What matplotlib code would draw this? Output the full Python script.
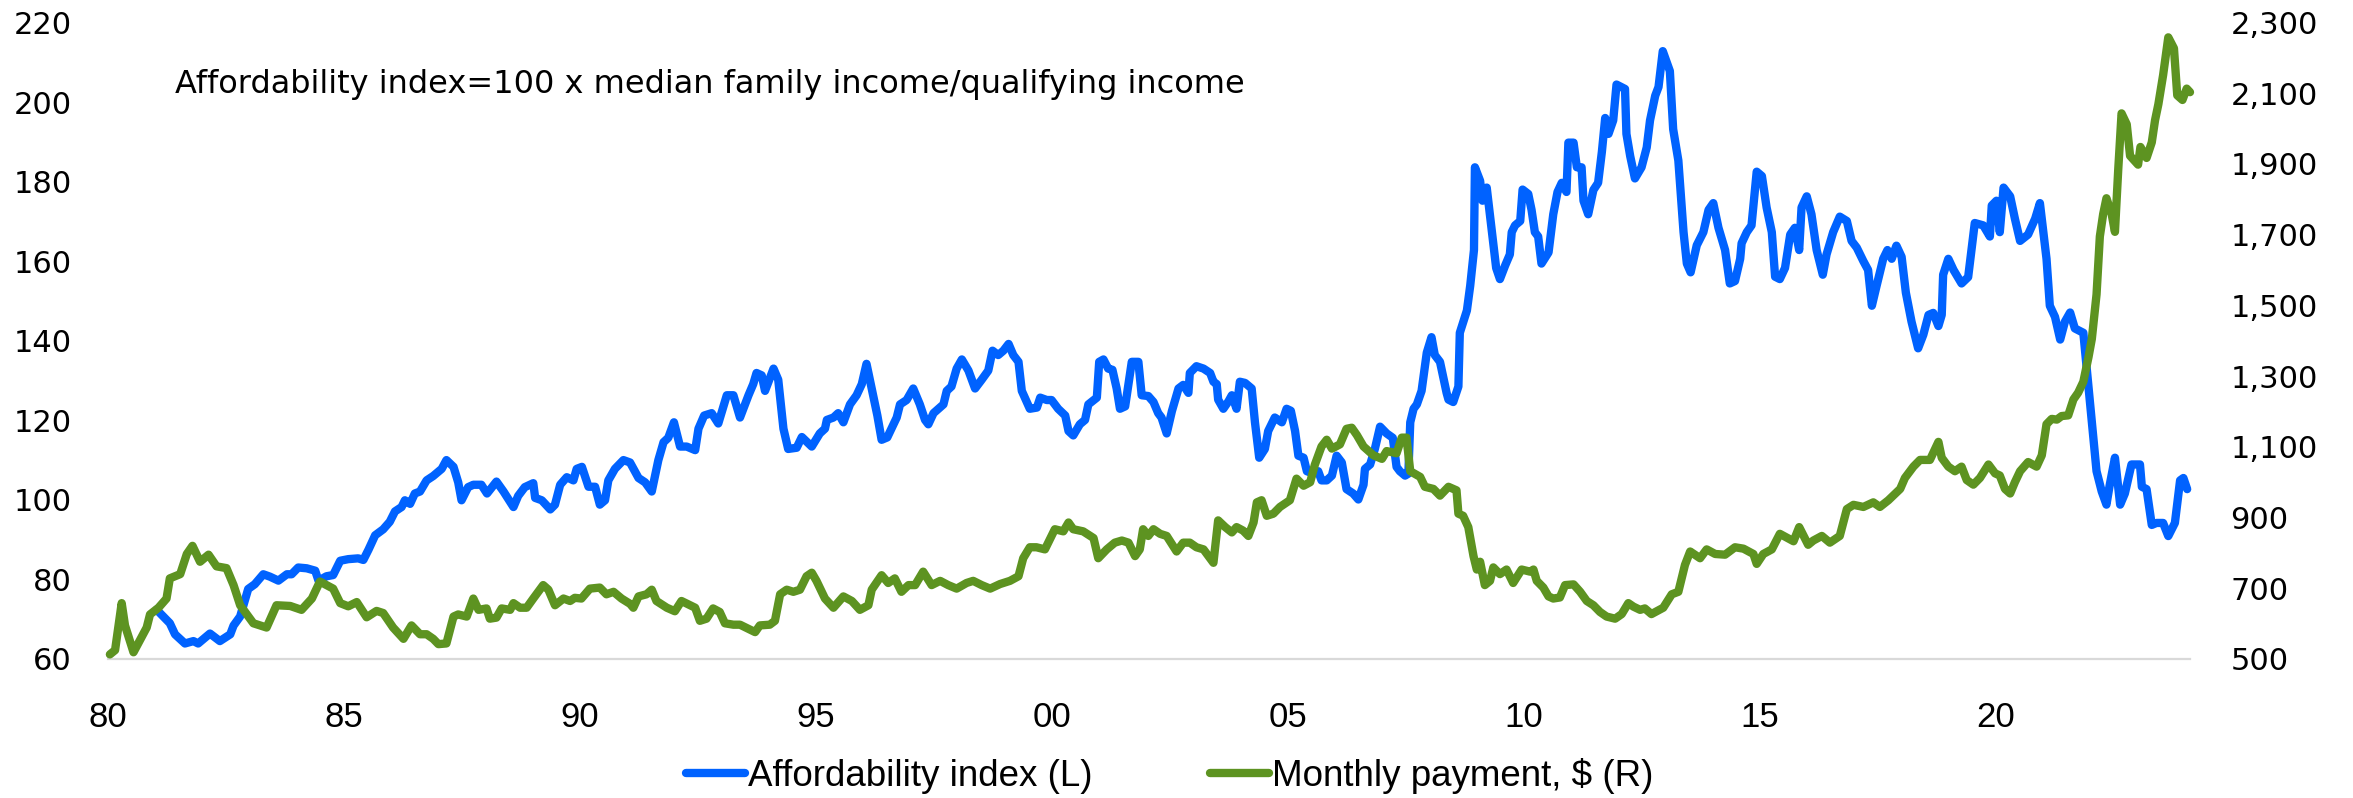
import matplotlib
matplotlib.use("Agg")
import matplotlib.pyplot as plt
from matplotlib.ticker import FuncFormatter

# Affordability index (left axis)
afford_t = [1981.03, 1981.17, 1981.31, 1981.42, 1981.63, 1981.81, 1981.91, 1982.16, 1982.37, 1982.59,
            1982.66, 1982.80, 1982.97, 1983.11, 1983.29, 1983.43, 1983.61, 1983.79, 1983.89, 1984.03,
            1984.21, 1984.39, 1984.46, 1984.63, 1984.77, 1984.92, 1985.09, 1985.30, 1985.41, 1985.52,
            1985.66, 1985.83, 1985.97, 1986.08, 1986.22, 1986.29, 1986.40, 1986.50, 1986.61, 1986.75,
            1986.89, 1987.07, 1987.17, 1987.32, 1987.42, 1987.49, 1987.63, 1987.74, 1987.91, 1988.03,
            1988.23, 1988.38, 1988.59, 1988.69, 1988.83, 1989.01, 1989.05, 1989.19, 1989.37, 1989.47,
            1989.58, 1989.72, 1989.86, 1989.93, 1990.04, 1990.18, 1990.32, 1990.42, 1990.53, 1990.60,
            1990.74, 1990.92, 1991.06, 1991.24, 1991.38, 1991.52, 1991.66, 1991.77, 1991.87, 1991.99,
            1992.12, 1992.26, 1992.44, 1992.51, 1992.63, 1992.79, 1992.93, 1993.11, 1993.25, 1993.39,
            1993.57, 1993.67, 1993.74, 1993.85, 1993.92, 1994.10, 1994.20, 1994.31, 1994.41, 1994.59,
            1994.70, 1994.91, 1995.08, 1995.19, 1995.23, 1995.37, 1995.47, 1995.58, 1995.72, 1995.86,
            1995.97, 1996.07, 1996.18, 1996.30, 1996.39, 1996.51, 1996.71, 1996.78, 1996.92, 1997.06,
            1997.20, 1997.31, 1997.38, 1997.49, 1997.70, 1997.77, 1997.87, 1997.98, 1998.09, 1998.23,
            1998.37, 1998.51, 1998.65, 1998.74, 1998.86, 1998.97, 1999.08, 1999.18, 1999.29, 1999.36,
            1999.53, 1999.68, 1999.75, 1999.89, 1999.99, 2000.13, 2000.28, 2000.35, 2000.45, 2000.59,
            2000.70, 2000.77, 2000.95, 2001.00, 2001.09, 2001.19, 2001.28, 2001.37, 2001.44, 2001.55,
            2001.69, 2001.83, 2001.90, 2002.04, 2002.15, 2002.25, 2002.32, 2002.43, 2002.54, 2002.68,
            2002.78, 2002.89, 2002.92, 2003.06, 2003.21, 2003.35, 2003.42, 2003.49, 2003.52, 2003.63,
            2003.74, 2003.81, 2003.91, 2003.98, 2004.09, 2004.23, 2004.30, 2004.39, 2004.51, 2004.58,
            2004.72, 2004.87, 2004.97, 2005.06, 2005.15, 2005.22, 2005.33, 2005.40, 2005.54, 2005.64,
            2005.71, 2005.82, 2005.93, 2006.03, 2006.14, 2006.24, 2006.38, 2006.49, 2006.60, 2006.63,
            2006.74, 2006.84, 2006.95, 2007.09, 2007.22, 2007.30, 2007.37, 2007.48, 2007.55, 2007.59,
            2007.66, 2007.73, 2007.83, 2007.94, 2008.04, 2008.11, 2008.22, 2008.36, 2008.40, 2008.50,
            2008.61, 2008.64, 2008.79, 2008.86, 2008.94, 2008.96, 2009.07, 2009.12, 2009.21, 2009.32,
            2009.41, 2009.49, 2009.60, 2009.70, 2009.74, 2009.81, 2009.92, 2009.97, 2010.09, 2010.16,
            2010.23, 2010.30, 2010.37, 2010.52, 2010.62, 2010.71, 2010.80, 2010.90, 2010.94, 2011.05,
            2011.12, 2011.22, 2011.26, 2011.36, 2011.47, 2011.57, 2011.65, 2011.72, 2011.79, 2011.89,
            2011.96, 2012.14, 2012.17, 2012.25, 2012.35, 2012.49, 2012.60, 2012.67, 2012.78, 2012.85,
            2012.94, 2013.09, 2013.16, 2013.27, 2013.38, 2013.45, 2013.53, 2013.66, 2013.80, 2013.91,
            2014.01, 2014.12, 2014.26, 2014.36, 2014.47, 2014.58, 2014.61, 2014.72, 2014.82, 2014.93,
            2015.04, 2015.14, 2015.25, 2015.32, 2015.42, 2015.53, 2015.64, 2015.74, 2015.83, 2015.88,
            2015.99, 2016.09, 2016.20, 2016.33, 2016.41, 2016.55, 2016.69, 2016.84, 2016.94, 2017.05,
            2017.19, 2017.29, 2017.37, 2017.47, 2017.61, 2017.70, 2017.79, 2017.89, 2018.00, 2018.09,
            2018.21, 2018.35, 2018.46, 2018.57, 2018.67, 2018.78, 2018.85, 2018.88, 2018.99, 2019.10,
            2019.27, 2019.41, 2019.55, 2019.73, 2019.87, 2019.91, 2020.01, 2020.08, 2020.16, 2020.30,
            2020.40, 2020.51, 2020.68, 2020.83, 2020.93, 2021.07, 2021.14, 2021.25, 2021.36, 2021.46,
            2021.57, 2021.67, 2021.85, 2021.99, 2022.13, 2022.24, 2022.34, 2022.41, 2022.52, 2022.63,
            2022.73, 2022.87, 2023.05, 2023.09, 2023.19, 2023.30, 2023.40, 2023.54, 2023.65, 2023.79,
            2023.90, 2023.97, 2024.05]
afford_v = [72.4, 70.7, 69.0, 66.2, 63.9, 64.5, 63.9, 66.4, 64.5, 66.2,
            68.4, 70.7, 77.6, 78.8, 81.3, 80.7, 79.7, 81.3, 81.3, 83.0,
            82.8, 82.2, 79.7, 80.8, 81.1, 84.7, 85.1, 85.3, 84.9, 87.5,
            91.1, 92.6, 94.5, 97.1, 98.2, 99.9, 99.0, 101.6, 102.1, 104.9,
            106.0, 107.8, 110.0, 108.3, 104.4, 99.9, 103.2, 103.8, 103.8, 101.6,
            104.6, 102.1, 98.2, 101.0, 103.2, 104.2, 100.5, 99.9, 97.6, 98.8,
            103.8, 105.7, 104.9, 107.8, 108.3, 103.3, 103.3, 98.8, 99.9, 104.9,
            107.8, 110.0, 109.4, 105.5, 104.4, 102.1, 110.0, 114.5, 115.6, 119.5,
            113.4, 113.4, 112.5, 117.9, 121.2, 121.8, 119.2, 126.3, 126.3, 120.7,
            126.3, 129.1, 131.9, 131.3, 127.4, 133.0, 130.2, 117.9, 112.8, 113.1,
            115.8, 113.4, 116.7, 117.9, 120.1, 120.7, 121.8, 119.5, 124.0, 126.3,
            129.1, 134.2, 128.0, 121.2, 115.1, 115.7, 120.7, 124.0, 125.1, 128.0,
            124.0, 120.1, 119.0, 121.8, 124.0, 127.4, 128.5, 133.0, 135.3, 132.5,
            128.0, 130.2, 132.5, 137.5, 136.4, 137.5, 139.2, 136.4, 134.7, 127.4,
            122.9, 123.2, 125.7, 125.1, 125.1, 122.9, 121.2, 117.3, 116.2, 119.0,
            120.1, 124.0, 125.7, 134.7, 135.3, 133.0, 132.7, 128.0, 122.9, 123.5,
            134.7, 134.7, 126.3, 126.1, 124.6, 121.8, 120.7, 116.7, 122.3, 128.0,
            128.9, 126.9, 131.9, 133.6, 133.0, 131.9, 129.7, 129.1, 125.2, 122.9,
            124.8, 126.3, 122.9, 129.7, 129.4, 128.0, 119.5, 110.6, 112.8, 117.3,
            120.7, 119.5, 122.9, 122.4, 117.3, 111.1, 110.6, 107.2, 106.6, 107.2,
            104.9, 104.9, 106.1, 111.1, 109.4, 102.7, 101.6, 100.1, 103.8, 107.8,
            108.9, 112.8, 118.4, 116.7, 115.6, 108.3, 107.2, 106.1, 106.6, 119.5,
            122.9, 124.0, 127.4, 137.0, 140.9, 136.4, 134.7, 126.9, 125.2, 124.6,
            128.5, 142.0, 147.6, 153.8, 162.8, 183.6, 180.2, 175.2, 178.5, 167.3,
            158.3, 155.5, 158.9, 161.7, 167.3, 169.0, 170.1, 178.0, 176.9, 172.9,
            167.3, 166.2, 159.4, 162.2, 171.8, 177.4, 179.7, 177.4, 189.8, 189.8,
            183.6, 183.6, 175.2, 171.8, 177.9, 179.7, 187.5, 196.0, 192.0, 195.4,
            204.4, 203.3, 192.0, 186.4, 180.8, 183.6, 188.6, 195.4, 201.6, 203.8,
            212.8, 207.8, 193.2, 185.3, 167.3, 159.4, 157.2, 164.0, 167.3, 172.9,
            174.6, 168.4, 162.8, 154.4, 155.0, 160.6, 164.5, 167.3, 169.0, 182.5,
            181.4, 173.5, 167.3, 156.1, 155.5, 158.3, 166.7, 168.4, 162.8, 173.5,
            176.3, 171.8, 162.8, 156.6, 161.7, 167.3, 171.2, 170.1, 165.1, 163.4,
            160.0, 157.8, 148.8, 153.8, 160.6, 162.8, 160.6, 163.9, 161.1, 152.1,
            144.8, 138.1, 141.5, 146.5, 147.0, 143.7, 146.5, 156.6, 160.6, 157.8,
            154.4, 156.0, 169.6, 169.0, 166.2, 174.0, 175.2, 167.3, 178.5, 176.3,
            170.7, 165.1, 166.7, 170.7, 174.6, 160.6, 148.8, 146.0, 140.3, 144.8,
            147.1, 143.1, 142.0, 124.6, 107.2, 102.1, 98.8, 103.8, 110.6, 98.8,
            101.6, 108.9, 108.9, 103.3, 102.7, 93.7, 94.2, 94.2, 90.9, 94.2,
            104.9, 105.5, 102.7]

# Monthly payment in $ (right axis)
payment_t = [1980.04, 1980.15, 1980.29, 1980.36, 1980.54, 1980.82, 1980.89, 1981.07, 1981.24, 1981.31,
             1981.53, 1981.67, 1981.79, 1981.95, 1982.13, 1982.30, 1982.51, 1982.66, 1982.80, 1983.08,
             1983.36, 1983.57, 1983.86, 1984.10, 1984.32, 1984.49, 1984.77, 1984.92, 1985.09, 1985.27,
             1985.48, 1985.69, 1985.83, 1986.04, 1986.26, 1986.43, 1986.61, 1986.75, 1986.89, 1987.00,
             1987.17, 1987.32, 1987.42, 1987.60, 1987.74, 1987.85, 1988.02, 1988.09, 1988.23, 1988.34,
             1988.52, 1988.59, 1988.73, 1988.87, 1989.01, 1989.22, 1989.33, 1989.47, 1989.65, 1989.79,
             1989.89, 1990.03, 1990.21, 1990.42, 1990.56, 1990.71, 1990.88, 1991.06, 1991.13, 1991.24,
             1991.41, 1991.52, 1991.62, 1991.84, 1992.01, 1992.15, 1992.33, 1992.44, 1992.54, 1992.68,
             1992.82, 1992.96, 1993.07, 1993.25, 1993.39, 1993.57, 1993.71, 1993.81, 1994.02, 1994.13,
             1994.24, 1994.38, 1994.52, 1994.66, 1994.80, 1994.91, 1995.01, 1995.19, 1995.37, 1995.58,
             1995.76, 1995.93, 1996.11, 1996.18, 1996.39, 1996.53, 1996.67, 1996.81, 1996.96, 1997.10,
             1997.27, 1997.45, 1997.63, 1997.80, 1997.98, 1998.19, 1998.33, 1998.51, 1998.69, 1998.90,
             1999.11, 1999.29, 1999.39, 1999.53, 1999.67, 1999.85, 2000.06, 2000.24, 2000.35, 2000.45,
             2000.66, 2000.88, 2000.98, 2001.16, 2001.33, 2001.48, 2001.62, 2001.76, 2001.86, 2001.93,
             2002.04, 2002.15, 2002.29, 2002.43, 2002.64, 2002.78, 2002.92, 2003.06, 2003.21, 2003.42,
             2003.52, 2003.67, 2003.81, 2003.91, 2004.05, 2004.16, 2004.27, 2004.34, 2004.44, 2004.55,
             2004.69, 2004.83, 2005.04, 2005.18, 2005.33, 2005.47, 2005.57, 2005.71, 2005.82, 2005.93,
             2006.10, 2006.24, 2006.35, 2006.46, 2006.60, 2006.81, 2006.99, 2007.09, 2007.30, 2007.41,
             2007.51, 2007.59, 2007.80, 2007.90, 2008.08, 2008.22, 2008.40, 2008.57, 2008.61, 2008.71,
             2008.82, 2008.93, 2009.00, 2009.07, 2009.17, 2009.28, 2009.35, 2009.49, 2009.63, 2009.77,
             2009.95, 2010.13, 2010.20, 2010.27, 2010.41, 2010.52, 2010.62, 2010.76, 2010.87, 2011.05,
             2011.19, 2011.33, 2011.47, 2011.61, 2011.75, 2011.93, 2012.07, 2012.21, 2012.32, 2012.46,
             2012.56, 2012.70, 2012.95, 2013.13, 2013.27, 2013.41, 2013.52, 2013.73, 2013.87, 2014.05,
             2014.26, 2014.47, 2014.65, 2014.86, 2014.93, 2015.07, 2015.25, 2015.42, 2015.71, 2015.83,
             2016.02, 2016.13, 2016.31, 2016.48, 2016.69, 2016.84, 2016.98, 2017.19, 2017.40, 2017.54,
             2017.72, 2017.97, 2018.07, 2018.25, 2018.39, 2018.60, 2018.78, 2018.85, 2018.99, 2019.13,
             2019.27, 2019.38, 2019.52, 2019.66, 2019.84, 2019.98, 2020.08, 2020.19, 2020.30, 2020.40,
             2020.51, 2020.68, 2020.86, 2020.97, 2021.07, 2021.18, 2021.29, 2021.39, 2021.53, 2021.64,
             2021.74, 2021.85, 2021.96, 2022.03, 2022.13, 2022.20, 2022.27, 2022.34, 2022.45, 2022.52,
             2022.59, 2022.66, 2022.77, 2022.84, 2023.01, 2023.06, 2023.19, 2023.30, 2023.37, 2023.44,
             2023.54, 2023.65, 2023.77, 2023.84, 2023.95, 2024.04, 2024.11]
payment_v = [513, 525, 658, 595, 519, 589, 626, 645, 671, 728,
             740, 797, 820, 775, 795, 762, 757, 709, 652, 601,
             589, 652, 650, 639, 671, 719, 699, 658, 649, 661,
             618, 636, 630, 589, 557, 595, 570, 570, 557, 542,
             544, 620, 626, 620, 671, 639, 643, 614, 617, 643,
             639, 658, 645, 645, 671, 709, 696, 652, 671, 664,
             673, 671, 699, 702, 683, 690, 671, 656, 645, 677,
             683, 696, 664, 645, 635, 664, 652, 645, 608, 614,
             643, 633, 601, 597, 597, 585, 576, 595, 597, 608,
             683, 696, 690, 696, 734, 744, 721, 671, 645, 677,
             664, 639, 652, 696, 737, 715, 728, 690, 709, 709,
             747, 709, 721, 709, 699, 715, 721, 709, 699, 712,
             721, 734, 785, 816, 816, 810, 867, 861, 886, 867,
             861, 842, 785, 810, 829, 835, 829, 791, 810, 867,
             848, 867, 854, 848, 804, 829, 829, 816, 810, 772,
             892, 873, 858, 873, 863, 848, 886, 943, 949, 905,
             911, 930, 949, 1010, 990, 1000, 1050, 1101, 1120, 1095,
             1107, 1151, 1154, 1133, 1101, 1076, 1066, 1088, 1082, 1126,
             1126, 1031, 1015, 987, 981, 962, 987, 977, 911, 905,
             873, 791, 753, 775, 709, 721, 759, 740, 753, 715,
             753, 747, 753, 721, 702, 677, 671, 674, 709, 711,
             690, 664, 652, 633, 620, 614, 627, 658, 648, 639,
             643, 627, 645, 683, 690, 766, 804, 785, 810, 797,
             795, 816, 812, 797, 769, 797, 810, 854, 833, 873,
             823, 835, 848, 829, 848, 924, 936, 930, 943, 930,
             949, 981, 1012, 1044, 1063, 1063, 1114, 1069, 1044, 1031,
             1044, 1006, 993, 1012, 1050, 1025, 1019, 981, 968, 1000,
             1031, 1057, 1044, 1076, 1164, 1179, 1177, 1187, 1189, 1234,
             1253, 1284, 1354, 1405, 1531, 1695, 1758, 1803, 1758, 1708,
             1885, 2043, 2012, 1923, 1898, 1948, 1917, 1961, 2024, 2069,
             2151, 2258, 2227, 2094, 2081, 2113, 2103]

year_ticks = [1980, 1985, 1990, 1995, 2000, 2005, 2010, 2015, 2020]
year_labels = ['80', '85', '90', '95', '00', '05', '10', '15', '20']
left_ticks = [60, 80, 100, 120, 140, 160, 180, 200, 220]
right_ticks = [500, 700, 900, 1100, 1300, 1500, 1700, 1900, 2100, 2300]

BLUE = '#0062FF'
GREEN = '#5D9321'

fig = plt.figure(figsize=(23.53, 7.98), dpi=100)
ax = fig.add_axes([108 / 2353, 1 - 659 / 798, (2190 - 108) / 2353, (659 - 22.5) / 798])
ax.plot(afford_t, afford_v, color=BLUE, lw=6, solid_joinstyle='round',
        solid_capstyle='round', clip_on=False, label='Affordability index (L)')
ax2 = ax.twinx()
ax2.plot(payment_t, payment_v, color=GREEN, lw=6, solid_joinstyle='round',
         solid_capstyle='round', clip_on=False, label='Monthly payment, $ (R)')

ax.set_xlim(1980.0, 2024.11)
ax.set_ylim(60, 220)
ax2.set_ylim(500, 2300)

ax.set_xticks(year_ticks)
ax.set_xticklabels(year_labels, fontfamily='Liberation Sans', fontsize=25)
ax.set_yticks(left_ticks)
ax2.set_yticks(right_ticks)
ax2.yaxis.set_major_formatter(FuncFormatter(lambda v, p: f'{int(v):,}'))
for lab in ax.get_yticklabels() + ax2.get_yticklabels():
    lab.set_fontfamily('DejaVu Sans')
    lab.set_fontsize(22)

ax.tick_params(axis='x', length=0, pad=30)
ax.tick_params(axis='y', length=0, pad=26)
ax2.tick_params(axis='y', length=0, pad=29)

for s in ['top', 'left', 'right']:
    ax.spines[s].set_visible(False)
ax.spines['bottom'].set_color('#D9D9D9')
ax.spines['bottom'].set_linewidth(1.6)
for s in ax2.spines.values():
    s.set_visible(False)

fig.text(175 / 2353, 1 - 85 / 798,
         'Affordability index=100 x median family income/qualifying income',
         ha='left', va='center', fontsize=23, fontfamily='DejaVu Sans')

h1, l1 = ax.get_legend_handles_labels()
h2, l2 = ax2.get_legend_handles_labels()
fig.legend(h1 + h2, l1 + l2, loc='center', bbox_to_anchor=(0.497, 1 - 776 / 798),
           ncol=2, frameon=False, prop={'family': 'Liberation Sans', 'size': 26.5},
           handlelength=1.6, handletextpad=0.08, columnspacing=3.2)

fig.savefig('out.png', dpi=100)
